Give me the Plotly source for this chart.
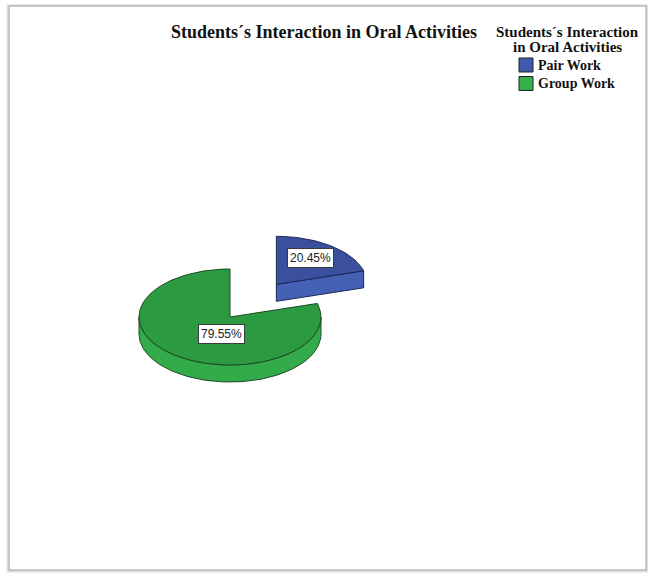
import numpy as np
import plotly.graph_objects as go

# ---- data -------------------------------------------------------------
categories = ["Pair Work", "Group Work"]
percentages = [20.45, 79.55]
chart_title = "Students´s Interaction in Oral Activities"
legend_title_lines = ["Students´s Interaction", "in Oral Activities"]

# ---- styling ----------------------------------------------------------
W, H = 648, 575
TOP_COLORS = {"Pair Work": "#3a509f", "Group Work": "#2b9a40"}
SIDE_COLORS = {"Pair Work": "#4561b6", "Group Work": "#33ab4b"}
EDGE_COLORS = {"Pair Work": "#1b2757", "Group Work": "#1c4a24"}
SWATCH_COLORS = {"Pair Work": "#3f5bb0", "Group Work": "#34b04b"}

CX, CY = 230, 317          # apex of the pie (pixel space)
RX, RY = 91, 48            # ellipse radii of the tilted disc
DEPTH = 17                 # thickness of the disc
EXPLODE = {"Pair Work": 0.85, "Group Work": 0.0}
LABEL_OFFSET = {"Pair Work": (34, -26), "Group Work": (-9, 17)}

SERIF = "Liberation Serif, Times New Roman, serif"
NARROW = "Liberation Sans Narrow, Arial Narrow, Liberation Sans, Arial, sans-serif"


def rim(theta_deg, cx, cy, dy=0.0):
    t = np.radians(theta_deg)
    return cx + RX * np.sin(t), cy - RY * np.cos(t) + dy


def arc(a0, a1, cx, cy, dy=0.0, n=None):
    if n is None:
        n = max(2, int(abs(a1 - a0) / 2) + 2)
    th = np.linspace(a0, a1, n)
    xs, ys = rim(th, cx, cy, dy)
    return list(xs), list(ys)


def poly(xs, ys, fill, edge):
    return go.Scatter(
        x=xs + [xs[0]], y=ys + [ys[0]], mode="lines", fill="toself",
        fillcolor=fill, line=dict(color=edge, width=1),
        hoverinfo="skip", showlegend=False,
    )


fig = go.Figure()

# angles measured clockwise from 12 o'clock
bounds = np.concatenate([[0.0], np.cumsum(percentages) / np.sum(percentages) * 360.0])
label_annotations = []

for i, (cat, pct) in enumerate(zip(categories, percentages)):
    a0, a1 = bounds[i], bounds[i + 1]
    mid = np.radians((a0 + a1) / 2)
    e = EXPLODE[cat]
    cx = CX + e * RX * np.sin(mid)
    cy = CY - e * RY * np.cos(mid)
    top, side, edge = TOP_COLORS[cat], SIDE_COLORS[cat], EDGE_COLORS[cat]

    # radial cut faces that turn towards the viewer
    if 0 < a1 % 360 < 180:
        px, py = rim(a1, cx, cy)
        fig.add_trace(poly([cx, px, px, cx], [cy, py, py + DEPTH, cy + DEPTH], side, edge))
    if 180 < a0 % 360 < 360:
        px, py = rim(a0, cx, cy)
        fig.add_trace(poly([cx, px, px, cx], [cy, py, py + DEPTH, cy + DEPTH], side, edge))

    # front wall of the disc (visible between 90 and 270 degrees)
    w0, w1 = max(a0, 90.0), min(a1, 270.0)
    if w1 > w0:
        ux, uy = arc(w0, w1, cx, cy)
        lx, ly = arc(w1, w0, cx, cy, DEPTH)
        fig.add_trace(poly(ux + lx, uy + ly, side, edge))

    # top face
    ax, ay = arc(a0, a1, cx, cy)
    fig.add_trace(poly([cx] + ax, [cy] + ay, top, edge))

    ox, oy = LABEL_OFFSET[cat]
    label_annotations.append(dict(
        x=cx + ox, y=cy + oy, xref="x", yref="y", text=f"{pct:.2f}%",
        showarrow=False, font=dict(family=NARROW, size=12, color="#222222"),
        bgcolor="white", bordercolor="#3a3a3a", borderwidth=1, borderpad=2,
    ))

# ---- legend -----------------------------------------------------------
shapes = []
annotations = list(label_annotations)
LEG_X, LEG_Y0, LEG_STEP = 519, 58, 18.5
for i, cat in enumerate(categories):
    y0 = LEG_Y0 + i * LEG_STEP
    shapes.append(dict(type="rect", xref="x", yref="y", x0=LEG_X, x1=LEG_X + 14,
                       y0=y0, y1=y0 + 14, fillcolor=SWATCH_COLORS[cat],
                       line=dict(color="#222222", width=1)))
    annotations.append(dict(x=LEG_X + 17, y=y0 + 7, xref="x", yref="y", text=f"<b>{cat}</b>",
                            xanchor="left", yanchor="middle", showarrow=False,
                            font=dict(family=SERIF, size=14, color="#111111")))
for j, line in enumerate(legend_title_lines):
    annotations.append(dict(x=567, y=32 + j * 15, xref="x", yref="y", text=f"<b>{line}</b>",
                            xanchor="center", yanchor="middle", showarrow=False,
                            font=dict(family=SERIF, size=15, color="#111111")))

# title
annotations.append(dict(x=324, y=32, xref="x", yref="y", text=f"<b>{chart_title}</b>",
                        xanchor="center", yanchor="middle", showarrow=False,
                        font=dict(family=SERIF, size=18, color="#111111")))

# ---- frame with soft shadow --------------------------------------------
for k, col in enumerate(["#bcbcbc", "#d6d6d6", "#ebebeb"]):
    shapes.insert(0, dict(type="rect", xref="x", yref="y", x0=9 - k, x1=646 + k,
                          y0=6 - k * 0.5, y1=570 + k, fillcolor="rgba(0,0,0,0)",
                          line=dict(color=col, width=1.5), layer="below"))

fig.update_layout(
    width=W, height=H, margin=dict(l=0, r=0, t=0, b=0),
    paper_bgcolor="white", plot_bgcolor="white",
    xaxis=dict(range=[0, W], visible=False, fixedrange=True),
    yaxis=dict(range=[H, 0], visible=False, fixedrange=True),
    shapes=shapes, annotations=annotations, showlegend=False,
)

fig.write_html("out.html")
